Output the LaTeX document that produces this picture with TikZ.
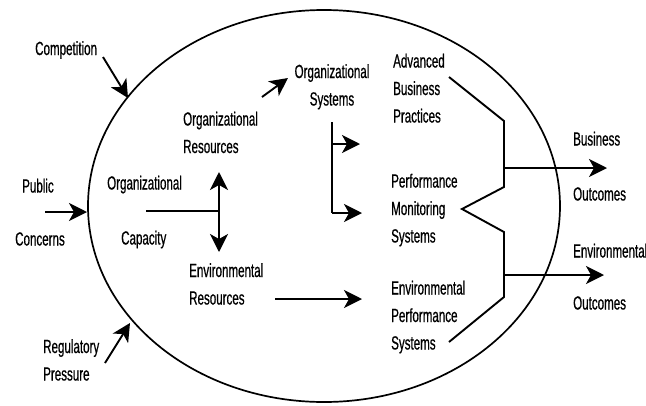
\documentclass[tikz,border=0pt]{standalone}
\usepackage{fontspec}
\setmainfont{Liberation Sans}[FakeStretch=0.61,FakeBold=0.6]
\usetikzlibrary{arrows.meta}
\begin{document}
\begin{tikzpicture}[x=1pt,y=-1pt,
  lbl/.style={inner sep=0pt, font=\fontsize{19}{27.5}\selectfont, align=left, anchor=base west},
  lblc/.style={lbl, align=center, anchor=base},
  ln/.style={line width=1.9pt},
  tip/.tip={Stealth[length=18pt,width=18pt,inset=5pt]},
  arr/.style={ln, -tip},
  darr/.style={ln, tip-tip}]
\useasboundingbox (0,0) rectangle (646,405);
% outer ellipse
\draw[line width=1.7pt] (324,206) ellipse [x radius=236pt, y radius=196pt];
% labels (base anchor = baseline of last line)
\node[lbl] (comp) at (35,55) {Competition};
\node[lbl] (pub) at (22,192.5) {Public};
\node[lbl] (conc) at (15,245.5) {Concerns};
\node[lbl] (reg) at (43,380.5) {Regulatory\\Pressure};
\node[lbl] (orgcap) at (107,189.5) {Organizational};
\node[lbl] (capac) at (121,244.5) {Capacity};
\node[lbl] (orgres) at (183,153) {Organizational\\Resources};
\node[lblc] (orgsys) at (332,105.5) {Organizational\\Systems};
\node[lbl] (envres) at (189,304.5) {Environmental\\Resources};
\node[lbl] (abp) at (393,122.5) {Advanced\\Business\\Practices};
\node[lbl] (pms) at (391,242.5) {Performance\\Monitoring\\Systems};
\node[lbl] (eps) at (391,349.5) {Environmental\\Performance\\Systems};
\node[lbl] (busi) at (573,145.5) {Business};
\node[lbl] (bout) at (573,200.5) {Outcomes};
\node[lbl] (envo) at (573,257.5) {Environmental};
\node[lbl] (eout) at (573,309.5) {Outcomes};
% coordinates
\coordinate (compS) at (103,57);  \coordinate (compE) at (128,98);
\coordinate (pubS) at (45,212);   \coordinate (pubE) at (87,212);
\coordinate (regS) at (105,363);  \coordinate (regE) at (130,323);
\coordinate (capS) at (146,211);  \coordinate (capJ) at (219,211);
\coordinate (vUp) at (219,172);   \coordinate (vDn) at (219,252);
\coordinate (resS) at (262,97);   \coordinate (resE) at (288,78);
\coordinate (sysT) at (332,122);  \coordinate (sysM) at (332,144);
\coordinate (sysB) at (332,213);
\coordinate (sysA1) at (360,144); \coordinate (sysA2) at (362,213);
\coordinate (envS) at (275,299);  \coordinate (envE) at (362,299);
\coordinate (b1) at (449,77);  \coordinate (b2) at (504,121);
\coordinate (b3) at (504,187); \coordinate (b4) at (462,209);
\coordinate (b5) at (504,232); \coordinate (b6) at (504,297);
\coordinate (b7) at (449,342);
\coordinate (busS) at (504,168); \coordinate (busE) at (607,168);
\coordinate (envoS) at (504,275); \coordinate (envoE) at (604,275);
% connectors
\draw[arr] (compS) -- (compE);
\draw[arr] (pubS) -- (pubE);
\draw[arr] (regS) -- (regE);
\draw[ln] (capS) -- (capJ);
\draw[darr] (vUp) -- (vDn);
\draw[arr] (resS) -- (resE);
\draw[ln] (sysT) -- (sysB);
\draw[arr] (sysM) -- (sysA1);
\draw[arr] (sysB) -- (sysA2);
\draw[arr] (envS) -- (envE);
\draw[ln, line join=miter] (b1) -- (b2) -- (b3) -- (b4) -- (b5) -- (b6) -- (b7);
\draw[arr] (busS) -- (busE);
\draw[arr] (envoS) -- (envoE);
\end{tikzpicture}
\end{document}
